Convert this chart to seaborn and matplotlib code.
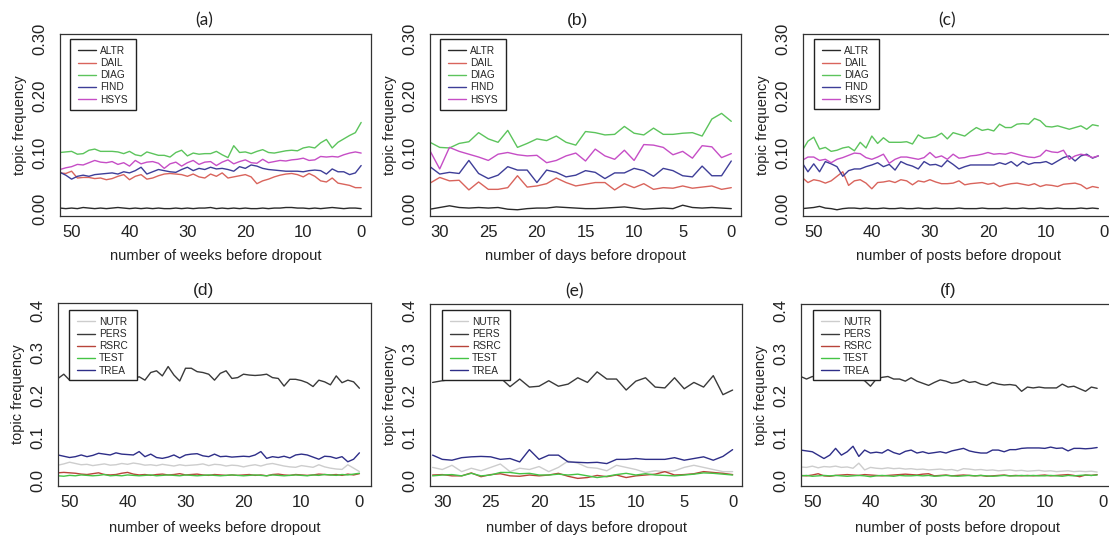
import matplotlib
matplotlib.use("Agg")
import matplotlib.pyplot as plt
import seaborn as sns
from matplotlib.patches import Rectangle
from matplotlib.lines import Line2D

# ---------------- data ----------------
WEEKS = list(range(52, -1, -1))   # 52 .. 0
DAYS = list(range(31, -1, -1))    # 31 .. 0
POSTS = list(range(52, 0, -1))    # 52 .. 1

TOP_NAMES = ["ALTR", "DAIL", "DIAG", "FIND", "HSYS"]
BOT_NAMES = ["NUTR", "PERS", "RSRC", "TEST", "TREA"]

TOP_YTICKS = [0.0, 0.05, 0.10, 0.15, 0.20, 0.25, 0.30]
TOP_YLABELS = ["0.00", "", "0.10", "", "0.20", "", "0.30"]
BOT_YTICKS = [0.0, 0.1, 0.2, 0.3, 0.4]
BOT_YLABELS = ["0.0", "0.1", "0.2", "0.3", "0.4"]
WEEK_TICKS = [50, 40, 30, 20, 10, 0]
DAY_TICKS = [30, 25, 20, 15, 10, 5, 0]
POST_TICKS = [50, 40, 30, 20, 10, 0]

# (a) weeks
A_ALTR = [0.002, 0.001, 0.002, 0.001, 0.003, 0.002, 0.001, 0.002, 0.001, 0.002,
          0.003, 0.002, 0.001, 0.002, 0.001, 0.002, 0.001, 0.002, 0.001, 0.001,
          0.002, 0.001, 0.002, 0.001, 0.002, 0.002, 0.003, 0.001, 0.002, 0.001,
          0.002, 0.001, 0.002, 0.001, 0.001, 0.002, 0.001, 0.002, 0.002, 0.003,
          0.003, 0.002, 0.002, 0.001, 0.002, 0.001, 0.002, 0.003, 0.002, 0.001,
          0.002, 0.002, 0.001]
A_DAIL = [0.064, 0.063, 0.067, 0.055, 0.056, 0.056, 0.054, 0.055, 0.052, 0.054,
          0.058, 0.061, 0.052, 0.058, 0.061, 0.053, 0.055, 0.059, 0.062, 0.063,
          0.062, 0.061, 0.058, 0.062, 0.057, 0.055, 0.062, 0.058, 0.064, 0.055,
          0.057, 0.059, 0.061, 0.057, 0.045, 0.050, 0.053, 0.057, 0.060, 0.062,
          0.063, 0.061, 0.057, 0.063, 0.058, 0.050, 0.048, 0.055, 0.046, 0.044,
          0.042, 0.038, 0.038]
A_DIAG = [0.100, 0.101, 0.102, 0.097, 0.098, 0.104, 0.106, 0.102, 0.102, 0.102,
          0.101, 0.098, 0.102, 0.096, 0.094, 0.101, 0.098, 0.095, 0.095, 0.092,
          0.100, 0.104, 0.094, 0.099, 0.097, 0.098, 0.098, 0.102, 0.096, 0.091,
          0.112, 0.100, 0.101, 0.098, 0.102, 0.105, 0.100, 0.099, 0.101, 0.103,
          0.104, 0.103, 0.108, 0.110, 0.108, 0.117, 0.123, 0.108, 0.118, 0.124,
          0.130, 0.135, 0.153]
A_FIND = [0.065, 0.060, 0.053, 0.058, 0.060, 0.058, 0.061, 0.062, 0.063, 0.064,
          0.062, 0.066, 0.064, 0.068, 0.074, 0.062, 0.066, 0.070, 0.068, 0.066,
          0.065, 0.070, 0.074, 0.068, 0.072, 0.070, 0.074, 0.071, 0.072, 0.070,
          0.067, 0.075, 0.072, 0.078, 0.076, 0.072, 0.070, 0.069, 0.068, 0.067,
          0.067, 0.067, 0.066, 0.068, 0.069, 0.068, 0.062, 0.071, 0.066, 0.066,
          0.061, 0.064, 0.077]
A_HSYS = [0.070, 0.073, 0.075, 0.079, 0.078, 0.082, 0.086, 0.083, 0.082, 0.084,
          0.079, 0.082, 0.076, 0.086, 0.080, 0.083, 0.084, 0.081, 0.072, 0.080,
          0.083, 0.076, 0.082, 0.086, 0.079, 0.083, 0.084, 0.077, 0.083, 0.087,
          0.080, 0.084, 0.087, 0.082, 0.081, 0.088, 0.082, 0.084, 0.086, 0.085,
          0.087, 0.088, 0.090, 0.086, 0.087, 0.093, 0.092, 0.093, 0.092, 0.096,
          0.099, 0.101, 0.099]

# (b) days
B_ALTR = [0.000, 0.003, 0.006, 0.003, 0.002, 0.003, 0.002, 0.003, 0.000, -0.001,
          0.001, 0.002, 0.002, 0.004, 0.003, 0.002, 0.001, 0.001, 0.002, 0.003,
          0.004, 0.002, 0.000, 0.001, 0.002, 0.001, 0.007, 0.003, 0.002, 0.003,
          0.002, 0.001]
B_DAIL = [0.046, 0.056, 0.050, 0.051, 0.034, 0.048, 0.035, 0.035, 0.038, 0.059,
          0.039, 0.041, 0.045, 0.055, 0.047, 0.041, 0.044, 0.047, 0.047, 0.034,
          0.045, 0.038, 0.045, 0.035, 0.038, 0.037, 0.041, 0.037, 0.039, 0.041,
          0.035, 0.038]
B_DIAG = [0.118, 0.109, 0.108, 0.116, 0.119, 0.135, 0.124, 0.118, 0.139, 0.109,
          0.116, 0.124, 0.121, 0.129, 0.118, 0.113, 0.137, 0.135, 0.131, 0.132,
          0.146, 0.134, 0.131, 0.143, 0.132, 0.132, 0.134, 0.135, 0.129, 0.159,
          0.169, 0.155]
B_FIND = [0.075, 0.062, 0.065, 0.063, 0.086, 0.063, 0.054, 0.060, 0.075, 0.069,
          0.069, 0.047, 0.069, 0.065, 0.057, 0.060, 0.068, 0.065, 0.054, 0.064,
          0.064, 0.072, 0.068, 0.058, 0.072, 0.068, 0.059, 0.057, 0.076, 0.059,
          0.059, 0.085]
B_HSYS = [0.103, 0.071, 0.109, 0.102, 0.097, 0.092, 0.086, 0.097, 0.100, 0.096,
          0.094, 0.095, 0.082, 0.086, 0.094, 0.099, 0.085, 0.106, 0.094, 0.088,
          0.104, 0.086, 0.114, 0.113, 0.109, 0.096, 0.102, 0.090, 0.112, 0.110,
          0.091, 0.098]

# (c) posts
C_ALTR = [0.001, 0.002, 0.003, 0.005, 0.002, 0.001, -0.001, 0.001, 0.002, 0.002,
          0.001, 0.002, 0.001, 0.001, 0.002, 0.001, 0.001, 0.002, 0.001, 0.001,
          0.002, 0.001, 0.001, 0.002, 0.001, 0.001, 0.001, 0.002, 0.001, 0.001,
          0.001, 0.002, 0.001, 0.001, 0.001, 0.002, 0.001, 0.001, 0.002, 0.001,
          0.001, 0.002, 0.001, 0.001, 0.002, 0.001, 0.001, 0.001, 0.002, 0.001,
          0.002, 0.001]
C_DAIL = [0.056, 0.047, 0.052, 0.050, 0.046, 0.050, 0.058, 0.066, 0.042, 0.050,
          0.052, 0.046, 0.036, 0.047, 0.048, 0.050, 0.047, 0.052, 0.050, 0.043,
          0.050, 0.048, 0.052, 0.048, 0.045, 0.045, 0.046, 0.050, 0.043, 0.045,
          0.046, 0.047, 0.044, 0.046, 0.040, 0.043, 0.045, 0.046, 0.044, 0.042,
          0.045, 0.040, 0.043, 0.042, 0.040, 0.044, 0.045, 0.046, 0.043, 0.036,
          0.040, 0.038]
C_DIAG = [0.103, 0.120, 0.127, 0.106, 0.109, 0.102, 0.104, 0.108, 0.110, 0.103,
          0.118, 0.108, 0.129, 0.116, 0.126, 0.118, 0.118, 0.118, 0.119, 0.115,
          0.131, 0.125, 0.126, 0.128, 0.134, 0.124, 0.135, 0.132, 0.129, 0.137,
          0.144, 0.139, 0.141, 0.138, 0.150, 0.144, 0.144, 0.150, 0.151, 0.150,
          0.160, 0.156, 0.146, 0.145, 0.147, 0.144, 0.141, 0.144, 0.147, 0.141,
          0.149, 0.147]
C_FIND = [0.082, 0.066, 0.080, 0.066, 0.084, 0.080, 0.075, 0.058, 0.068, 0.071,
          0.071, 0.075, 0.078, 0.082, 0.075, 0.079, 0.069, 0.084, 0.079, 0.076,
          0.071, 0.084, 0.078, 0.079, 0.075, 0.086, 0.079, 0.071, 0.075, 0.078,
          0.078, 0.078, 0.078, 0.078, 0.082, 0.079, 0.084, 0.076, 0.084, 0.079,
          0.082, 0.082, 0.084, 0.079, 0.085, 0.091, 0.094, 0.085, 0.094, 0.097,
          0.090, 0.094]
C_HSYS = [0.086, 0.092, 0.092, 0.086, 0.088, 0.082, 0.088, 0.091, 0.095, 0.099,
          0.098, 0.091, 0.088, 0.092, 0.097, 0.081, 0.088, 0.092, 0.092, 0.090,
          0.088, 0.091, 0.100, 0.091, 0.094, 0.088, 0.097, 0.090, 0.091, 0.094,
          0.095, 0.097, 0.100, 0.097, 0.098, 0.097, 0.100, 0.097, 0.094, 0.092,
          0.091, 0.094, 0.104, 0.101, 0.100, 0.104, 0.088, 0.094, 0.097, 0.095,
          0.091, 0.094]

# (d) weeks
D_NUTR = [0.035, 0.038, 0.042, 0.039, 0.036, 0.037, 0.034, 0.036, 0.038, 0.035,
          0.036, 0.039, 0.037, 0.040, 0.038, 0.035, 0.036, 0.034, 0.037, 0.035,
          0.033, 0.036, 0.034, 0.035, 0.036, 0.038, 0.034, 0.037, 0.036, 0.033,
          0.035, 0.034, 0.031, 0.034, 0.036, 0.033, 0.037, 0.039, 0.036, 0.033,
          0.031, 0.030, 0.034, 0.032, 0.030, 0.036, 0.031, 0.028, 0.026, 0.025,
          0.036, 0.028, 0.020]
D_PERS = [0.239, 0.249, 0.235, 0.238, 0.242, 0.246, 0.240, 0.250, 0.244, 0.238,
          0.247, 0.252, 0.244, 0.238, 0.243, 0.235, 0.253, 0.257, 0.245, 0.267,
          0.247, 0.233, 0.263, 0.263, 0.255, 0.253, 0.249, 0.235, 0.251, 0.257,
          0.239, 0.241, 0.249, 0.247, 0.246, 0.247, 0.249, 0.241, 0.239, 0.221,
          0.237, 0.237, 0.234, 0.229, 0.220, 0.235, 0.231, 0.224, 0.245, 0.229,
          0.235, 0.231, 0.216]
D_RSRC = [0.017, 0.018, 0.017, 0.016, 0.014, 0.013, 0.015, 0.017, 0.013, 0.012,
          0.013, 0.016, 0.018, 0.014, 0.012, 0.013, 0.011, 0.013, 0.014, 0.012,
          0.013, 0.015, 0.012, 0.013, 0.014, 0.012, 0.011, 0.013, 0.012, 0.011,
          0.012, 0.011, 0.012, 0.013, 0.011, 0.012, 0.010, 0.013, 0.014, 0.012,
          0.011, 0.013, 0.012, 0.011, 0.012, 0.014, 0.013, 0.012, 0.013, 0.011,
          0.014, 0.012, 0.015]
D_TEST = [0.010, 0.009, 0.011, 0.010, 0.012, 0.011, 0.010, 0.011, 0.013, 0.010,
          0.011, 0.010, 0.012, 0.011, 0.010, 0.011, 0.012, 0.010, 0.011, 0.012,
          0.011, 0.010, 0.012, 0.011, 0.010, 0.011, 0.012, 0.011, 0.010, 0.011,
          0.012, 0.011, 0.010, 0.011, 0.012, 0.011, 0.010, 0.012, 0.011, 0.010,
          0.011, 0.012, 0.011, 0.010, 0.012, 0.011, 0.013, 0.012, 0.011, 0.013,
          0.012, 0.014, 0.016]
D_TREA = [0.059, 0.056, 0.053, 0.055, 0.059, 0.055, 0.058, 0.063, 0.061, 0.059,
          0.064, 0.061, 0.060, 0.059, 0.067, 0.055, 0.061, 0.053, 0.051, 0.054,
          0.059, 0.052, 0.059, 0.061, 0.062, 0.057, 0.055, 0.061, 0.055, 0.056,
          0.054, 0.055, 0.056, 0.055, 0.059, 0.067, 0.051, 0.055, 0.053, 0.056,
          0.052, 0.059, 0.061, 0.059, 0.054, 0.049, 0.056, 0.055, 0.051, 0.055,
          0.043, 0.049, 0.064]

# (e) days
E_NUTR = [0.030, 0.025, 0.035, 0.020, 0.028, 0.022, 0.030, 0.038, 0.020, 0.028,
          0.025, 0.032, 0.020, 0.030, 0.045, 0.040, 0.030, 0.028, 0.022, 0.035,
          0.030, 0.025, 0.018, 0.022, 0.020, 0.022, 0.030, 0.035, 0.030, 0.025,
          0.020, 0.020]
E_PERS = [0.231, 0.235, 0.238, 0.236, 0.240, 0.237, 0.239, 0.242, 0.221, 0.239,
          0.220, 0.222, 0.235, 0.222, 0.227, 0.242, 0.231, 0.256, 0.239, 0.239,
          0.213, 0.234, 0.242, 0.220, 0.218, 0.242, 0.216, 0.231, 0.220, 0.247,
          0.202, 0.213]
E_RSRC = [0.012, 0.013, 0.010, 0.010, 0.017, 0.008, 0.013, 0.015, 0.010, 0.009,
          0.012, 0.010, 0.012, 0.016, 0.009, 0.004, 0.006, 0.011, 0.008, 0.012,
          0.006, 0.010, 0.012, 0.014, 0.020, 0.012, 0.013, 0.015, 0.020, 0.018,
          0.016, 0.013]
E_TEST = [0.010, 0.012, 0.013, 0.010, 0.016, 0.010, 0.012, 0.018, 0.018, 0.015,
          0.016, 0.012, 0.012, 0.014, 0.012, 0.014, 0.010, 0.006, 0.009, 0.013,
          0.016, 0.012, 0.015, 0.012, 0.011, 0.010, 0.012, 0.014, 0.017, 0.016,
          0.014, 0.012]
E_TREA = [0.059, 0.049, 0.047, 0.053, 0.055, 0.056, 0.055, 0.049, 0.051, 0.043,
          0.072, 0.049, 0.059, 0.059, 0.043, 0.042, 0.041, 0.042, 0.039, 0.049,
          0.049, 0.051, 0.049, 0.049, 0.049, 0.053, 0.047, 0.051, 0.055, 0.047,
          0.056, 0.072]

# (f) posts
F_NUTR = [0.031, 0.030, 0.033, 0.029, 0.032, 0.031, 0.033, 0.030, 0.031, 0.028,
          0.040, 0.024, 0.030, 0.028, 0.027, 0.029, 0.027, 0.028, 0.026, 0.027,
          0.025, 0.026, 0.024, 0.025, 0.026, 0.024, 0.025, 0.022, 0.027, 0.026,
          0.024, 0.025, 0.023, 0.024, 0.022, 0.023, 0.024, 0.022, 0.023, 0.021,
          0.022, 0.023, 0.021, 0.022, 0.020, 0.021, 0.022, 0.020, 0.021, 0.020,
          0.021, 0.019]
F_PERS = [0.245, 0.239, 0.245, 0.241, 0.238, 0.243, 0.240, 0.244, 0.239, 0.242,
          0.240, 0.235, 0.222, 0.239, 0.243, 0.245, 0.239, 0.239, 0.234, 0.242,
          0.234, 0.229, 0.224, 0.231, 0.237, 0.234, 0.229, 0.231, 0.237, 0.231,
          0.233, 0.227, 0.224, 0.231, 0.227, 0.225, 0.226, 0.224, 0.210, 0.220,
          0.218, 0.220, 0.218, 0.218, 0.218, 0.227, 0.220, 0.222, 0.216, 0.210,
          0.220, 0.217]
F_RSRC = [0.011, 0.010, 0.012, 0.015, 0.010, 0.009, 0.011, 0.012, 0.013, 0.012,
          0.011, 0.013, 0.012, 0.011, 0.010, 0.011, 0.012, 0.013, 0.014, 0.013,
          0.012, 0.014, 0.015, 0.010, 0.011, 0.012, 0.010, 0.011, 0.012, 0.011,
          0.010, 0.011, 0.009, 0.010, 0.011, 0.012, 0.010, 0.011, 0.010, 0.011,
          0.010, 0.011, 0.012, 0.010, 0.011, 0.012, 0.013, 0.011, 0.008, 0.012,
          0.011, 0.013]
F_TEST = [0.010, 0.011, 0.009, 0.010, 0.011, 0.010, 0.011, 0.010, 0.009, 0.010,
          0.011, 0.010, 0.008, 0.010, 0.011, 0.010, 0.009, 0.011, 0.010, 0.010,
          0.011, 0.010, 0.011, 0.009, 0.010, 0.011, 0.010, 0.009, 0.010, 0.011,
          0.010, 0.011, 0.010, 0.009, 0.010, 0.011, 0.010, 0.010, 0.011, 0.010,
          0.011, 0.010, 0.010, 0.011, 0.010, 0.009, 0.011, 0.010, 0.011, 0.012,
          0.011, 0.012]
F_TREA = [0.071, 0.069, 0.067, 0.059, 0.051, 0.059, 0.075, 0.059, 0.067, 0.080,
          0.056, 0.071, 0.064, 0.066, 0.064, 0.072, 0.065, 0.061, 0.068, 0.071,
          0.064, 0.067, 0.063, 0.065, 0.067, 0.064, 0.069, 0.072, 0.075, 0.069,
          0.066, 0.064, 0.064, 0.071, 0.071, 0.067, 0.072, 0.072, 0.075, 0.076,
          0.076, 0.076, 0.075, 0.078, 0.075, 0.076, 0.069, 0.075, 0.075, 0.074,
          0.075, 0.077]

# ---------------- style ----------------
TOP_COLORS = ["#2a2a2a", "#d9645c", "#5cc45c", "#3e3e98", "#c64ec6"]
BOT_COLORS = ["#cdcdcd", "#3a3a3a", "#b8443a", "#45c445", "#2e2e88"]

sns.set_style("white")
plt.rcParams["font.family"] = ["Liberation Sans", "DejaVu Sans"]

W, H = 1109, 535
fig = plt.figure(figsize=(W / 100, H / 100), dpi=100)
fig.patch.set_facecolor("white")


def fx(px):
    return px / W


def fy(py):
    return 1 - py / H


panels = [
    dict(box=(60, 34, 371, 216), xlim=(52.0, -1.7), ylim=(-0.012, 0.309), x=WEEKS,
         names=TOP_NAMES, series=[A_ALTR, A_DAIL, A_DIAG, A_FIND, A_HSYS], colors=TOP_COLORS,
         xticks=WEEK_TICKS, yticks=TOP_YTICKS, ylabels=TOP_YLABELS,
         xlabel="number of weeks before dropout", title="(a)", tpos=(204, 20), tfont="Lato",
         leg=(70, 39, 136, 110), xlab_y=256),
    dict(box=(430, 34, 741, 216), xlim=(31.0, -1.0), ylim=(-0.012, 0.309), x=DAYS,
         names=TOP_NAMES, series=[B_ALTR, B_DAIL, B_DIAG, B_FIND, B_HSYS], colors=TOP_COLORS,
         xticks=DAY_TICKS, yticks=TOP_YTICKS, ylabels=TOP_YLABELS,
         xlabel="number of days before dropout", title="(b)", tpos=(577, 20), tfont="Liberation Sans",
         leg=(440, 39, 506, 110), xlab_y=256),
    dict(box=(803, 34, 1114, 216), xlim=(51.85, -1.7), ylim=(-0.012, 0.309), x=POSTS,
         names=TOP_NAMES, series=[C_ALTR, C_DAIL, C_DIAG, C_FIND, C_HSYS], colors=TOP_COLORS,
         xticks=POST_TICKS, yticks=TOP_YTICKS, ylabels=TOP_YLABELS,
         xlabel="number of posts before dropout", title="(c)", tpos=(947, 20), tfont="Lato",
         leg=(814, 39, 879, 109), xlab_y=256),
    dict(box=(58, 303, 371, 486), xlim=(52.0, -2.0), ylim=(-0.014, 0.4165), x=WEEKS,
         names=BOT_NAMES, series=[D_NUTR, D_PERS, D_RSRC, D_TEST, D_TREA], colors=BOT_COLORS,
         xticks=WEEK_TICKS, yticks=BOT_YTICKS, ylabels=BOT_YLABELS,
         xlabel="number of weeks before dropout", title="(d)", tpos=(204, 291), tfont="Liberation Sans",
         leg=(69, 310, 137, 380), xlab_y=528),
    dict(box=(430, 304, 742, 486), xlim=(31.27, -0.97), ylim=(-0.014, 0.4165), x=DAYS,
         names=BOT_NAMES, series=[E_NUTR, E_PERS, E_RSRC, E_TEST, E_TREA], colors=BOT_COLORS,
         xticks=DAY_TICKS, yticks=BOT_YTICKS, ylabels=BOT_YLABELS,
         xlabel="number of days before dropout", title="(e)", tpos=(575, 291), tfont="Lato",
         leg=(442, 310, 510, 380), xlab_y=528),
    dict(box=(801, 304, 1114, 486), xlim=(51.95, -1.9), ylim=(-0.014, 0.4165), x=POSTS,
         names=BOT_NAMES, series=[F_NUTR, F_PERS, F_RSRC, F_TEST, F_TREA], colors=BOT_COLORS,
         xticks=POST_TICKS, yticks=BOT_YTICKS, ylabels=BOT_YLABELS,
         xlabel="number of posts before dropout", title="(f)", tpos=(948, 291), tfont="Liberation Sans",
         leg=(813, 310, 880, 380), xlab_y=528),
]

for p in panels:
    l, t, r, b = p["box"]
    ax = fig.add_axes([fx(l), fy(b), (r - l) / W, (b - t) / H])
    ax.set_facecolor("white")
    for name, vals, col in zip(p["names"], p["series"], p["colors"]):
        sns.lineplot(x=p["x"], y=vals, color=col, linewidth=1.0, ax=ax, legend=False)
    ax.set_xlim(*p["xlim"])
    ax.set_ylim(*p["ylim"])
    ax.set_xticks(p["xticks"])
    ax.set_xticklabels([str(v) for v in p["xticks"]])
    ax.set_yticks(p["yticks"])
    ax.set_yticklabels(p["ylabels"], rotation=90, va="center")
    ax.tick_params(direction="out", length=5, width=0.8, color="#333333",
                   labelsize=12, labelcolor="#222222")
    ax.tick_params(axis="x", pad=1.5)
    ax.tick_params(axis="y", pad=4)
    for s in ax.spines.values():
        s.set_visible(True)
        s.set_color("#333333")
        s.set_linewidth(0.9)
    ax.set_xlabel(p["xlabel"], fontsize=10.5, color="#222222")
    ax.xaxis.label.set_va("center")
    ax.xaxis.set_label_coords(0.5, (b - p["xlab_y"]) / (b - t))
    ax.set_ylabel("topic frequency", fontsize=10.5, color="#222222")
    ax.yaxis.label.set_va("center")
    ax.yaxis.set_label_coords(-40.0 / (r - l), 0.5)

    # legend box (R style)
    lx0, ly0, lx1, ly1 = p["leg"]
    ax.add_patch(Rectangle((fx(lx0), fy(ly1)), (lx1 - lx0) / W, (ly1 - ly0) / H,
                           transform=fig.transFigure, facecolor="white",
                           edgecolor="#222222", linewidth=1.0, zorder=5))
    handles = [Line2D([], [], color=c, linewidth=1.0) for c in p["colors"]]
    leg = ax.legend(handles, p["names"], loc="upper left",
                    bbox_to_anchor=(fx(lx0 + 8), fy(ly0 + 7)),
                    bbox_transform=fig.transFigure, frameon=False, fontsize=7.3,
                    handlelength=1.8, handletextpad=0.35, labelspacing=0.21,
                    borderpad=0, borderaxespad=0)
    leg.set_zorder(6)

    fig.text(fx(p["tpos"][0]), fy(p["tpos"][1]), p["title"], ha="center", va="center",
             fontsize=12.5, family=[p["tfont"], "DejaVu Sans"], color="#222222")

fig.savefig("out.png", dpi=100, facecolor="white")
